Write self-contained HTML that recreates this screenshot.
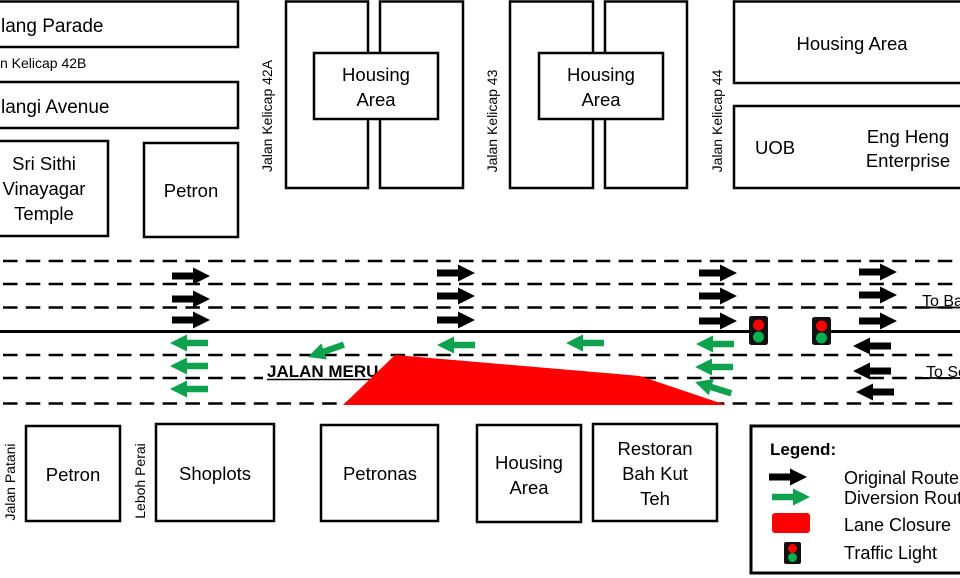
<!DOCTYPE html>
<html>
<head>
<meta charset="utf-8">
<style>
html,body{margin:0;padding:0;background:#fff;}
body{width:960px;height:578px;overflow:hidden;}
svg{display:block;}
text{font-family:"Liberation Sans",Arial,sans-serif;fill:#000;}
</style>
</head>
<body>
<svg width="960" height="578" viewBox="0 0 960 578" xmlns="http://www.w3.org/2000/svg">
<defs>
  <polygon id="ab" points="-38,-3.5 -17,-3.5 -17,-8.5 0,0 -17,8.5 -17,3.5 -38,3.5" fill="#000"/>
  <polygon id="ag" points="-38,-3.2 -17,-3.2 -17,-8.5 0,0 -17,8.5 -17,3.2 -38,3.2" fill="#0ea24e"/>
</defs>

<!-- Top-left blocks -->
<g fill="#fff" stroke="#000" stroke-width="2.5">
  <rect x="-10" y="1.5" width="248" height="45.5"/>
  <rect x="-10" y="82" width="248" height="46"/>
  <rect x="-10" y="141" width="118" height="95"/>
  <rect x="144" y="143" width="94" height="94"/>
</g>
<text x="1" y="32" font-size="19">lang Parade</text>
<text x="0" y="68" font-size="14">n Kelicap 42B</text>
<text x="1" y="113" font-size="19">langi Avenue</text>
<g font-size="18.5" text-anchor="middle">
  <text x="44" y="170">Sri Sithi</text>
  <text x="44" y="195">Vinayagar</text>
  <text x="44" y="220">Temple</text>
  <text x="191" y="197">Petron</text>
</g>

<!-- Top middle blocks -->
<g fill="#fff" stroke="#000" stroke-width="2.5">
  <rect x="286" y="1.5" width="82" height="186.5"/>
  <rect x="380" y="1.5" width="83" height="186.5"/>
  <rect x="314" y="53" width="124" height="66"/>
  <rect x="510" y="1.5" width="83" height="186.5"/>
  <rect x="605" y="1.5" width="82" height="186.5"/>
  <rect x="539" y="53" width="124" height="66"/>
  <rect x="734" y="1.5" width="240" height="81.5"/>
  <rect x="734" y="106" width="240" height="82"/>
</g>
<g font-size="18.5" text-anchor="middle">
  <text x="376" y="81">Housing</text>
  <text x="376" y="106">Area</text>
  <text x="601" y="81">Housing</text>
  <text x="601" y="106">Area</text>
  <text x="852" y="50">Housing Area</text>
  <text x="775" y="154">UOB</text>
  <text x="908" y="143">Eng Heng</text>
  <text x="908" y="167">Enterprise</text>
</g>
<g font-size="14" text-anchor="middle">
  <text transform="translate(272,116) rotate(-90)">Jalan Kelicap 42A</text>
  <text transform="translate(497,121) rotate(-90)">Jalan Kelicap 43</text>
  <text transform="translate(722,121) rotate(-90)">Jalan Kelicap 44</text>
  <text transform="translate(15,482) rotate(-90)">Jalan Patani</text>
  <text transform="translate(145,481) rotate(-90)">Leboh Perai</text>
</g>

<!-- Road lines -->
<g stroke="#000" stroke-width="2.5" stroke-dasharray="14.5 8.3" fill="none">
  <line x1="3" y1="261" x2="960" y2="261"/>
  <line x1="3" y1="284" x2="960" y2="284"/>
  <line x1="3" y1="307.5" x2="960" y2="307.5"/>
  <line x1="3" y1="355" x2="960" y2="355"/>
  <line x1="3" y1="378" x2="960" y2="378"/>
  <line x1="3" y1="403.5" x2="960" y2="403.5"/>
</g>
<g stroke="#000" stroke-width="3">
  <line x1="0" y1="331.5" x2="750" y2="331.5"/>
  <line x1="831" y1="331.5" x2="960" y2="331.5"/>
</g>

<!-- To Ba / To Se labels -->
<rect x="918" y="291" width="42" height="15" fill="#fff"/>
<text x="922" y="306" font-size="16">To Ba</text>
<line x1="919" y1="307.5" x2="960" y2="307.5" stroke="#000" stroke-width="1.8"/>
<rect x="922" y="362" width="38" height="15" fill="#fff"/>
<text x="926" y="377" font-size="16">To Se</text>
<line x1="923" y1="378" x2="960" y2="378" stroke="#000" stroke-width="1.8"/>

<!-- JALAN MERU -->
<rect x="263" y="360" width="135" height="30" fill="#fff"/>
<text x="267" y="377" font-size="17" font-weight="bold">JALAN MERU</text>
<line x1="267" y1="379.5" x2="390" y2="379.5" stroke="#000" stroke-width="1.5"/>

<!-- Lane closure -->
<polygon points="343,405 395,355 640,376 726,405" fill="#ff0000"/>

<!-- Black arrows (original route) -->
<use href="#ab" transform="translate(210,276)"/>
<use href="#ab" transform="translate(210,299)"/>
<use href="#ab" transform="translate(210,320)"/>
<use href="#ab" transform="translate(475,273)"/>
<use href="#ab" transform="translate(475,296)"/>
<use href="#ab" transform="translate(475,320)"/>
<use href="#ab" transform="translate(737,273)"/>
<use href="#ab" transform="translate(737,296)"/>
<use href="#ab" transform="translate(737,321)"/>
<use href="#ab" transform="translate(897,272)"/>
<use href="#ab" transform="translate(897,295)"/>
<use href="#ab" transform="translate(897,321)"/>
<use href="#ab" transform="translate(853,346) rotate(180)"/>
<use href="#ab" transform="translate(853,371) rotate(180)"/>
<use href="#ab" transform="translate(856,392) rotate(180)"/>

<!-- Green arrows (diversion) -->
<use href="#ag" transform="translate(170,343) rotate(180)"/>
<use href="#ag" transform="translate(170,366) rotate(180)"/>
<use href="#ag" transform="translate(170,389) rotate(180)"/>
<use href="#ag" transform="translate(308,357) rotate(161)"/>
<use href="#ag" transform="translate(437,345) rotate(180)"/>
<use href="#ag" transform="translate(566,343) rotate(180)"/>
<use href="#ag" transform="translate(696,344) rotate(180)"/>
<use href="#ag" transform="translate(695,367) rotate(180)"/>
<use href="#ag" transform="translate(695,382) rotate(197.4)"/>

<!-- Traffic lights -->
<rect x="749" y="316" width="19" height="29" rx="2.5" fill="#111"/>
<circle cx="758.5" cy="325" r="5.5" fill="#ff0000"/>
<circle cx="758.5" cy="337" r="5.5" fill="#00b050"/>
<rect x="812" y="317" width="19" height="28" rx="2.5" fill="#111"/>
<circle cx="821.5" cy="326" r="5.5" fill="#ff0000"/>
<circle cx="821.5" cy="338" r="5.5" fill="#00b050"/>

<!-- Bottom blocks -->
<g fill="#fff" stroke="#000" stroke-width="2.5">
  <rect x="26" y="426" width="94" height="95"/>
  <rect x="156" y="424" width="118" height="97"/>
  <rect x="321" y="425" width="117" height="96"/>
  <rect x="477" y="425" width="104" height="97"/>
  <rect x="593" y="424" width="124" height="97"/>
</g>
<g font-size="18.5" text-anchor="middle">
  <text x="73" y="481">Petron</text>
  <text x="215" y="480">Shoplots</text>
  <text x="380" y="480">Petronas</text>
  <text x="529" y="469">Housing</text>
  <text x="529" y="494">Area</text>
  <text x="655" y="455">Restoran</text>
  <text x="655" y="480">Bah Kut</text>
  <text x="655" y="505">Teh</text>
</g>

<!-- Legend -->
<rect x="751" y="426" width="230" height="147" fill="#fff" stroke="#000" stroke-width="3"/>
<text x="770" y="455" font-size="17" font-weight="bold">Legend:</text>
<use href="#ab" transform="translate(807,477)"/>
<use href="#ag" transform="translate(810,497)"/>
<rect x="772" y="513" width="38" height="20" rx="3" fill="#ff0000"/>
<rect x="784" y="542" width="17" height="22" rx="2" fill="#111"/>
<circle cx="792.5" cy="548.5" r="4.5" fill="#ff0000"/>
<circle cx="792.5" cy="557.5" r="4.5" fill="#00b050"/>
<g font-size="18">
  <text x="844" y="484">Original Route</text>
  <text x="844" y="504">Diversion Route</text>
  <text x="844" y="531">Lane Closure</text>
  <text x="844" y="559">Traffic Light</text>
</g>
</svg>
</body>
</html>
